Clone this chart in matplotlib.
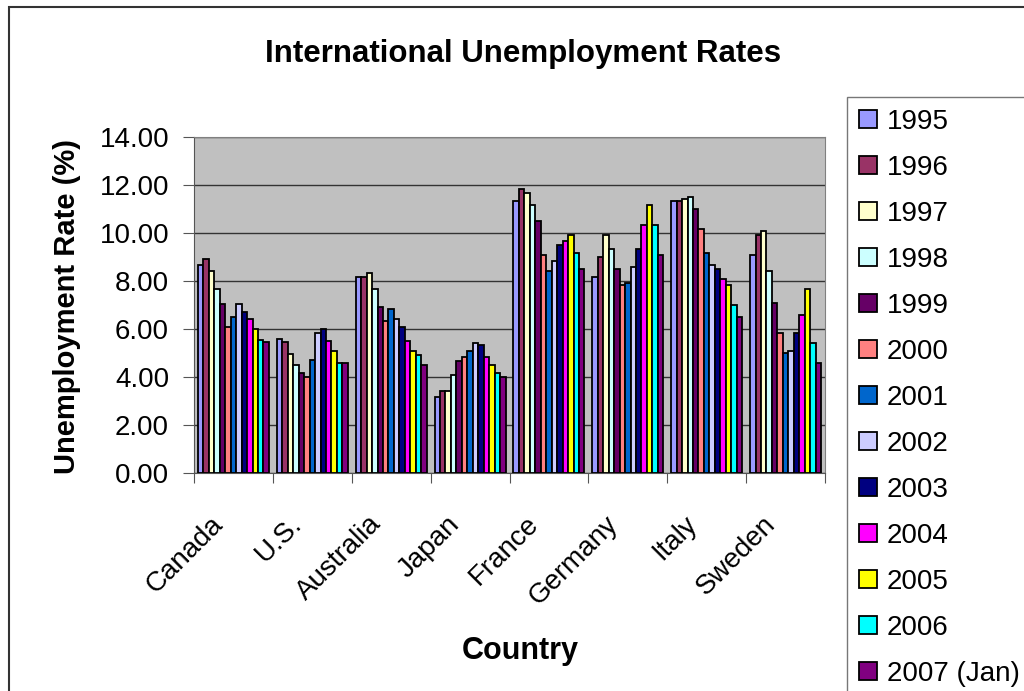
import matplotlib
matplotlib.use("Agg")
import matplotlib.pyplot as plt
import numpy as np
from matplotlib.patches import Rectangle, Patch
from matplotlib.transforms import ScaledTranslation

plt.rcParams['font.family'] = ['Liberation Sans', 'DejaVu Sans']

countries = ["Canada", "U.S.", "Australia", "Japan", "France", "Germany", "Italy", "Sweden"]
years = ["1995", "1996", "1997", "1998", "1999", "2000", "2001", "2002",
         "2003", "2004", "2005", "2006", "2007 (Jan)"]
colors = ["#9999FF", "#993366", "#FFFFCC", "#CCFFFF", "#660066", "#FF8080",
          "#0066CC", "#CCCCFF", "#000080", "#FF00FF", "#FFFF00", "#00FFFF", "#800080"]

canada    = [8.67, 8.92, 8.42, 7.67, 7.03, 6.10, 6.51, 7.03, 6.69, 6.43, 6.00, 5.53, 5.44]
us        = [5.60, 5.44, 4.94, 4.51, 4.18, 4.00, 4.69, 5.85, 6.00, 5.51, 5.10, 4.58, 4.58]
australia = [8.17, 8.17, 8.33, 7.67, 6.92, 6.33, 6.83, 6.42, 6.08, 5.51, 5.10, 4.92, 4.50]
japan     = [3.17, 3.42, 3.42, 4.08, 4.68, 4.83, 5.08, 5.43, 5.33, 4.83, 4.50, 4.17, 4.00]
france    = [11.33, 11.83, 11.67, 11.17, 10.51, 9.08, 8.42, 8.83, 9.51, 9.67, 9.90, 9.17, 8.51]
germany   = [8.18, 9.01, 9.90, 9.35, 8.51, 7.85, 7.92, 8.60, 9.35, 10.33, 11.17, 10.33, 9.08]
italy     = [11.33, 11.33, 11.42, 11.50, 11.01, 10.18, 9.17, 8.67, 8.51, 8.08, 7.85, 7.01, 6.51]
sweden    = [9.08, 9.93, 10.10, 8.42, 7.10, 5.85, 5.00, 5.10, 5.85, 6.60, 7.67, 5.43, 4.60]

data = np.array([canada, us, australia, japan, france, germany, italy, sweden])

W, H = 1024, 691
fig = plt.figure(figsize=(W / 100, H / 100), dpi=100)
fig.patch.set_facecolor("white")

# plot area in pixels
x0, x1 = 194, 825
y0, y1 = 137, 473
ax = fig.add_axes([x0 / W, 1 - y1 / H, (x1 - x0) / W, (y1 - y0) / H])
ax.set_facecolor("#C0C0C0")

n_c = len(countries)
n_y = len(years)
group_w = 0.9
bw = group_w / n_y
xc = np.arange(n_c)
for i in range(n_y):
    ax.bar(xc - group_w / 2 + (i + 0.5) * bw, data[:, i], width=bw,
           color=colors[i], edgecolor="black", linewidth=1.3, zorder=3)

ax.set_xlim(-0.5, n_c - 0.5)
ax.set_ylim(0, 14)
yt = np.arange(0, 14.01, 2)
ax.set_yticks(yt)
ax.set_yticklabels([f"{v:.2f}" for v in yt], fontsize=20)
ax.yaxis.grid(True, color="#333333", linewidth=1.0, zorder=0)
ax.set_axisbelow(True)

ax.set_xticks(np.arange(-0.5, n_c, 1.0))
ax.set_xticklabels([])
ax.set_xticks(xc, minor=True)
ax.set_xticklabels(countries, minor=True, rotation=45, ha="right", va="baseline",
                   rotation_mode="anchor", fontsize=20)
ax.tick_params(axis="x", which="minor", length=0, pad=0)
off = ScaledTranslation(-9 / 100, -52 / 100, fig.dpi_scale_trans)
for lab in ax.get_xticklabels(minor=True):
    lab.set_transform(lab.get_transform() + off)
ax.tick_params(axis="x", which="major", length=7, direction="out", color="#555555")
ax.tick_params(axis="y", length=8, direction="out", color="#555555", pad=10)

for s in ["top", "right"]:
    ax.spines[s].set_color("#808080")
ax.spines["left"].set_color("#555555")
ax.spines["bottom"].set_color("#555555")

fig.text(67 / W, 1 - 306 / H, "Unemployment Rate (%)", fontsize=21, fontweight="bold",
         ha="center", va="center", rotation=90)
fig.text(520 / W, 1 - 651 / H, "Country", fontsize=22, fontweight="bold",
         ha="center", va="center")
fig.text(523 / W, 1 - 62 / H, "International Unemployment Rates", fontsize=22.5,
         fontweight="bold", ha="center", va="baseline")

handles = [Patch(facecolor=c, edgecolor="black", linewidth=1.3) for c in colors]
leg = fig.legend(handles, years, loc="upper left",
                 bbox_to_anchor=(847 / W, 1 - 97 / H), fontsize=20,
                 frameon=True, fancybox=False, edgecolor="#555555",
                 handlelength=0.65, handleheight=0.65, handletextpad=0.36,
                 labelspacing=0.72, borderpad=0.42, borderaxespad=0)
leg.get_frame().set_linewidth(1.0)

# outer chart border
fig.add_artist(Rectangle((9 / W, -0.01), 1.1, 1 - 7 / H + 0.01, transform=fig.transFigure,
                         fill=False, edgecolor="#333333", linewidth=1.5))

fig.savefig("out.png", dpi=100)
